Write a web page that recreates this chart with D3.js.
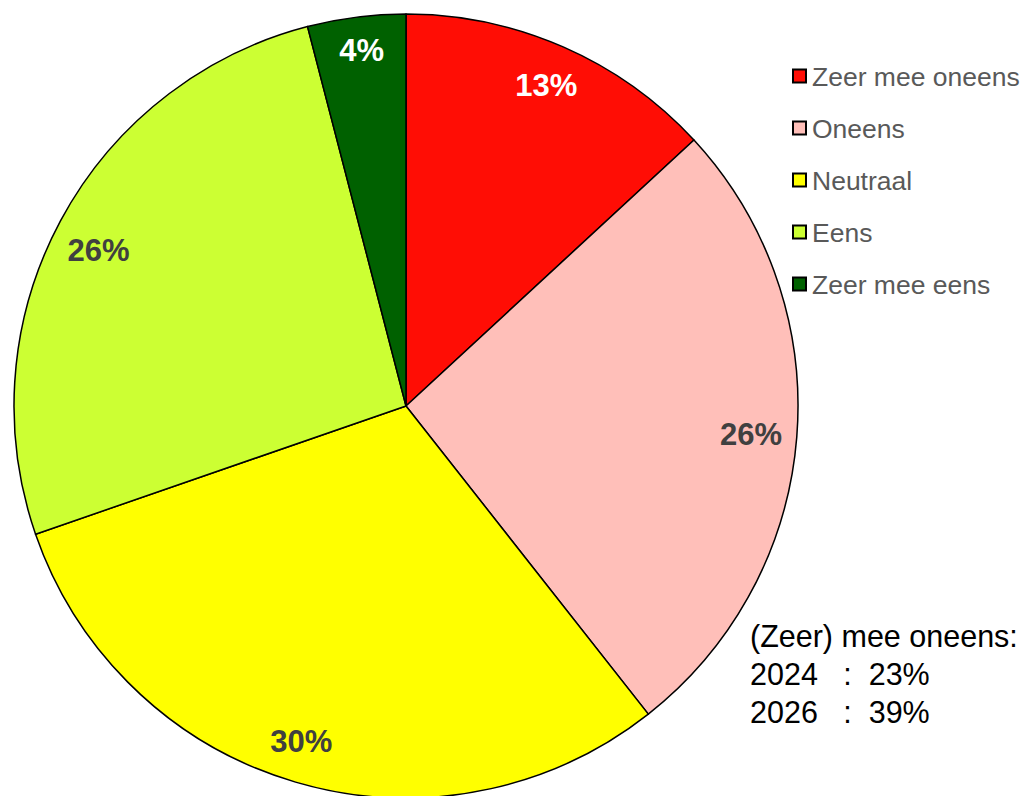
<!DOCTYPE html>
<html>
<head>
<meta charset="utf-8">
<script src="https://cdn.jsdelivr.net/npm/d3@7"></script>
<style>
  html, body { margin: 0; padding: 0; background: #fff; }
  svg { display: block; }
  text { font-family: "Liberation Sans", Arial, sans-serif; }
</style>
</head>
<body>
<svg id="chart" width="1028" height="796"></svg>
<script>
// Survey answers (percent of respondents)
const categories = ["Zeer mee oneens", "Oneens", "Neutraal", "Eens", "Zeer mee eens"];
const values = [13, 26, 30, 26, 4];
const colors = ["#ff0d05", "#ffbfb9", "#ffff00", "#ccff33", "#006100"];
const labelColors = ["#ffffff", "#404040", "#404040", "#404040", "#ffffff"];

// Summary note beside the pie
const noteLines = ["(Zeer) mee oneens:", "2024   :  23%", "2026   :  39%"];

const svg = d3.select("#chart");
const cx = 406, cy = 406, radius = 392;

const pie = d3.pie().sort(null).value(d => d.value);
const arcs = pie(categories.map((c, i) => ({ name: c, value: values[i], i })));

const arc = d3.arc().innerRadius(0).outerRadius(radius);
const labelArc = d3.arc().innerRadius(radius * 0.893).outerRadius(radius * 0.893);
// small per-slice shifts of the percentage labels, in pixels
const labelShift = [[0, 0], [-4, 0], [-6, -1], [1, 9], [0, -9]];

const g = svg.append("g").attr("transform", `translate(${cx},${cy})`);

g.selectAll("path.slice")
  .data(arcs)
  .join("path")
  .attr("class", "slice")
  .attr("d", arc)
  .attr("fill", d => colors[d.data.i])
  .attr("stroke", "#000")
  .attr("stroke-width", 1.5)
  .attr("stroke-linejoin", "round");

g.selectAll("text.pct")
  .data(arcs)
  .join("text")
  .attr("class", "pct")
  .attr("transform", d => {
    const [x, y] = labelArc.centroid(d);
    const [sx, sy] = labelShift[d.data.i];
    return `translate(${x + sx},${y + sy})`;
  })
  .attr("text-anchor", "middle")
  .attr("dy", "0.36em")
  .attr("font-size", 31)
  .attr("font-weight", "bold")
  .attr("fill", d => labelColors[d.data.i])
  .text(d => d3.format(".0f")(d.value) + "%");

// Legend
const legend = svg.append("g").attr("transform", "translate(792,76)");
const rowH = 52;
const rows = legend.selectAll("g.row")
  .data(categories)
  .join("g")
  .attr("class", "row")
  .attr("transform", (d, i) => `translate(0,${i * rowH})`);

rows.append("rect")
  .attr("x", 1).attr("y", -6.5)
  .attr("width", 13).attr("height", 13)
  .attr("fill", (d, i) => colors[i])
  .attr("stroke", "#000")
  .attr("stroke-width", 2);

rows.append("text")
  .attr("x", 20)
  .attr("dy", "0.36em")
  .attr("font-size", 26.5)
  .attr("fill", "#595959")
  .text(d => d);

// Note
svg.append("g")
  .selectAll("text")
  .data(noteLines)
  .join("text")
  .attr("x", 750)
  .attr("y", (d, i) => 647 + i * 38)
  .attr("font-size", 30.5)
  .attr("fill", "#000")
  .attr("xml:space", "preserve")
  .style("white-space", "pre")
  .text(d => d);
</script>
</body>
</html>
